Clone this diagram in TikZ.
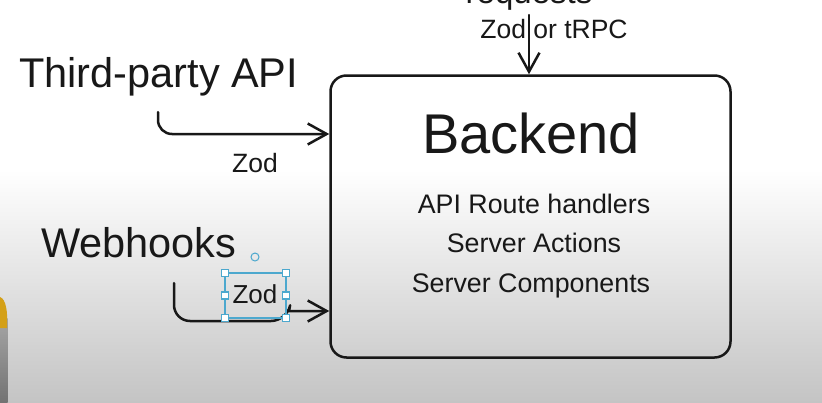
\documentclass[tikz,border=0pt]{standalone}
\usepackage{fontspec}
\setmainfont{Liberation Sans}
\usetikzlibrary{arrows.meta, positioning}

\definecolor{inkblack}{RGB}{24,24,24}
\definecolor{selcyan}{RGB}{76,168,206}
\definecolor{mustard}{RGB}{212,160,23}
\definecolor{floorgray}{RGB}{196,196,196}

\newcommand\textpx[1]{\fontsize{#1}{#1}\selectfont}

\tikzset{
  sketch/.style={draw=inkblack, line width=2.5pt, line cap=round, line join=round},
  barb/.style={-{Straight Barb[length=19pt, width=21pt]}},
  txt/.style={inner sep=0pt, text=inkblack},
  handle/.style={draw=selcyan, fill=white, line width=1.2pt, minimum size=7pt, inner sep=0pt},
}

\begin{document}
\begin{tikzpicture}[x=1pt, y=-1pt]
  \useasboundingbox (0,0) rectangle (822,402);

  % background
  \fill[white] (0,0) rectangle (822,170);
  \shade[top color=white, bottom color=floorgray] (0,170) rectangle (822,402);

  % left edge
  \shade[top color=black!35, bottom color=black!55] (0,318) rectangle (7.5,402);
  \fill[mustard] (0,297) .. controls (6,299) and (8,312) .. (7,328) -- (0,328) -- cycle;

  % backend box
  \node[sketch, rounded corners=16pt, minimum width=400pt, minimum height=282pt] (backend) at (530.5,216.5) {};
  \node[txt, font=\textpx{56}, anchor=base] (title) at (531,153) {Backend};
  \node[txt, font=\textpx{26.8}, anchor=base] (routes) at (534,213) {API Route handlers};
  \node[txt, font=\textpx{26.8}, anchor=base] (actions) at (534,252) {Server Actions};
  \node[txt, font=\textpx{26.8}, anchor=base] (components) at (531,292) {Server Components};

  % requests
  \node[txt, font=\textpx{33}, anchor=base] (requests) at (529,3) {requests};
  \node[txt, font=\textpx{26.5}, anchor=base] (via) at (554,38) {Zod or tRPC};
  \coordinate (reqstart) at (529,15);
  \draw[sketch, barb] (reqstart) -- (reqstart |- backend.north);

  % third-party api
  \node[txt, font=\textpx{41.5}, anchor=base west] (thirdparty) at (19,87) {Third-party API};
  \node[txt, font=\textpx{26.5}, anchor=base] (zodtp) at (255,172) {Zod};
  \coordinate (tpstart) at (158,112);
  \draw[sketch, barb, rounded corners=14pt] (tpstart) |- (backend.west |- 0,134);

  % webhooks
  \node[txt, font=\textpx{41.5}, anchor=base west] (webhooks) at (41,257) {Webhooks};
  \node[txt, font=\textpx{26}, anchor=base] (zodwh) at (255,303) {Zod};
  \coordinate (whstart) at (174,283);
  \coordinate (whkink) at (287,321);
  \coordinate (whrise) at (289,311);
  \draw[sketch, barb] (whstart) [rounded corners=16pt] |- (whkink) [sharp corners] -- (whrise) -- (backend.west |- whrise);

  % selection frame
  \coordinate (selnw) at (225,273);
  \coordinate (selse) at (286,318);
  \draw[selcyan, line width=1.3pt] (selnw) rectangle (selse);
  \foreach \hx/\hy in {225/273, 286/273, 225/318, 286/318, 225/295.5, 286/295.5}
  {
    \node[handle] at (\hx,\hy) {};
  }
  \node[draw=selcyan, circle, line width=1pt, minimum size=8pt, inner sep=0pt] (rotknob) at (255,257) {};
\end{tikzpicture}
\end{document}
